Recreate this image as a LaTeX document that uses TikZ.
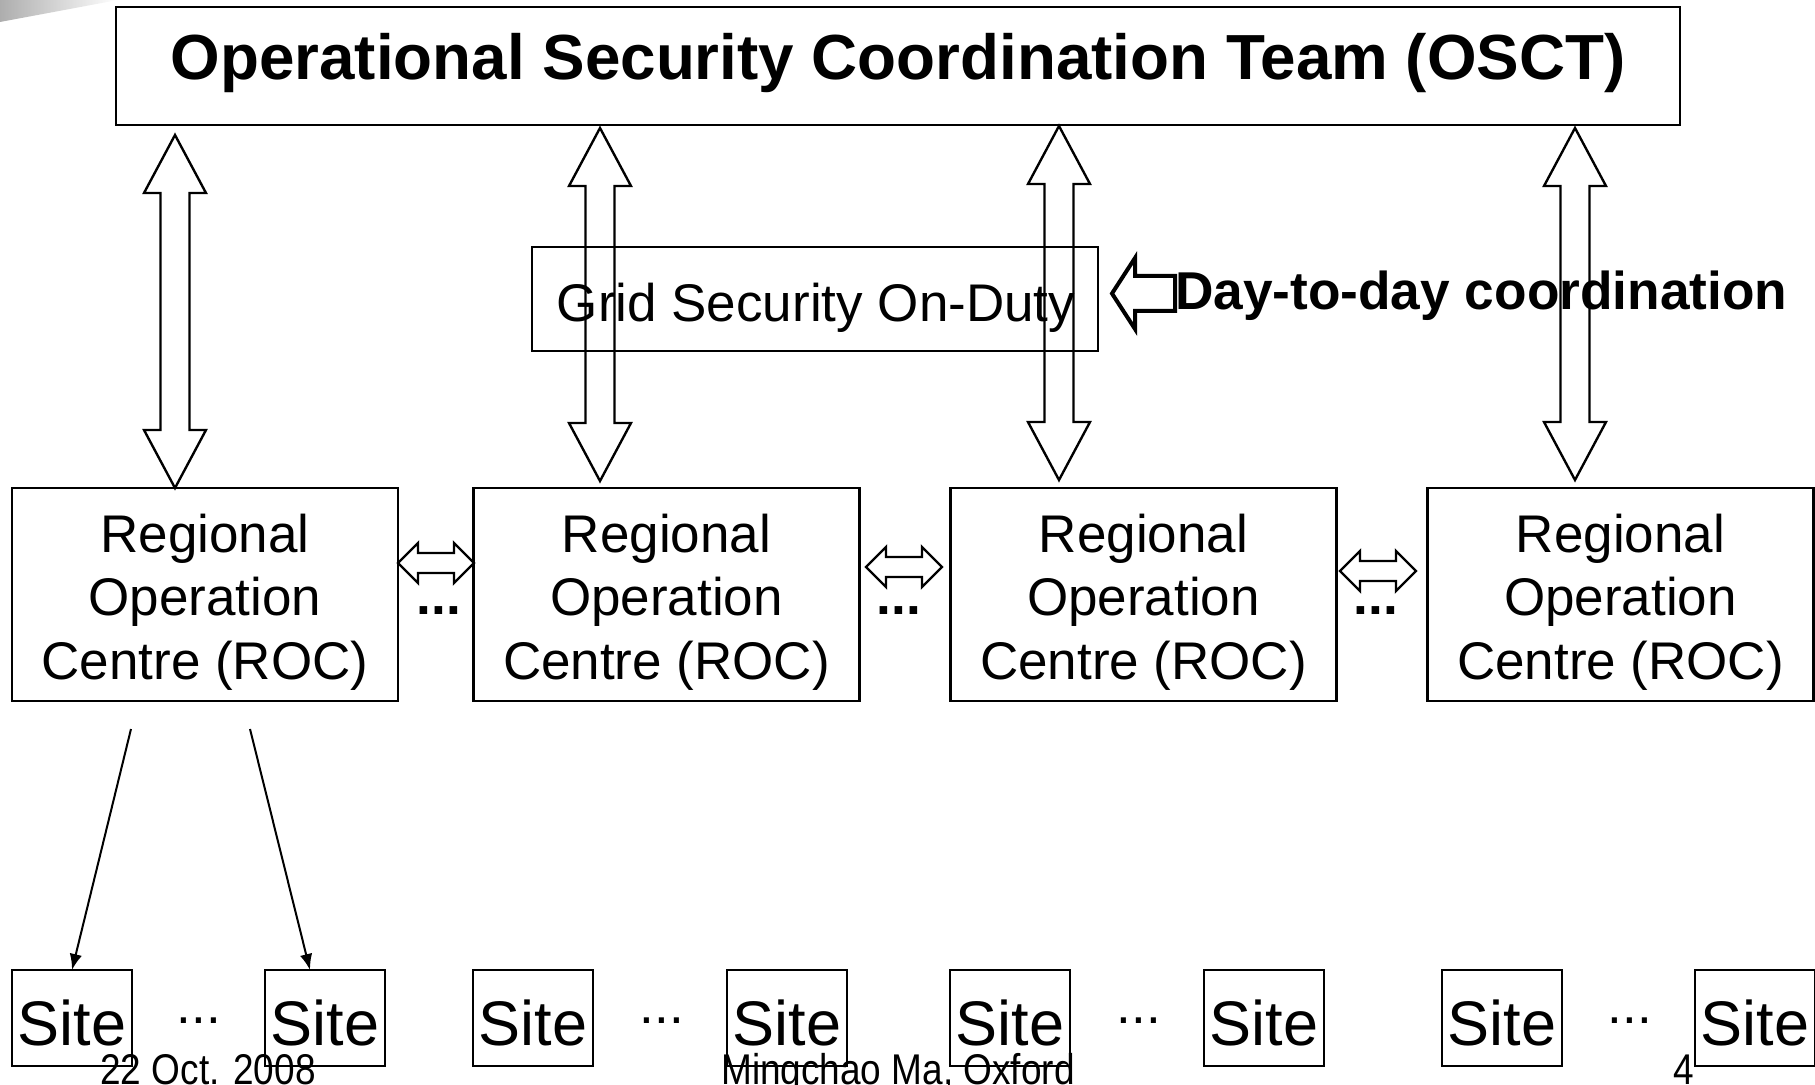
\documentclass[tikz,border=0pt]{standalone}
\usepackage{fontspec}
\setmainfont{Liberation Sans}
\newfontfamily\footfont[FakeStretch=0.86]{Liberation Sans}
\usetikzlibrary{arrows.meta,calc}

% hollow double block arrow, vertical: #1 upper tip, #2 lower tip
\newcommand\vblock[2]{%
  \draw[blk] let \p1=(#1), \p2=(#2) in
    (\x1,\y1) -- (\x1+12.4pt,\y1-23.2pt) -- (\x1+5.8pt,\y1-23.2pt)
    -- (\x1+5.8pt,\y2+23.2pt) -- (\x1+12.4pt,\y2+23.2pt) -- (\x1,\y2)
    -- (\x1-12.4pt,\y2+23.2pt) -- (\x1-5.8pt,\y2+23.2pt)
    -- (\x1-5.8pt,\y1-23.2pt) -- (\x1-12.4pt,\y1-23.2pt) -- cycle;}
% hollow double block arrow, horizontal: #1 left tip, #2 right tip
\newcommand\hblock[2]{%
  \draw[blk] let \p1=(#1), \p2=(#2) in
    (\x1,\y1) -- (\x1+8pt,\y1+8pt) -- (\x1+8pt,\y1+4pt)
    -- (\x2-8pt,\y1+4pt) -- (\x2-8pt,\y1+8pt) -- (\x2,\y1)
    -- (\x2-8pt,\y1-8pt) -- (\x2-8pt,\y1-4pt)
    -- (\x1+8pt,\y1-4pt) -- (\x1+8pt,\y1-8pt) -- cycle;}

\begin{document}
\begin{tikzpicture}[x=0.4pt,y=-0.4pt,
  frame/.style 2 args={draw, line width=0.95pt, inner sep=0pt, outer sep=0pt,
    minimum width=#1*0.4pt, minimum height=#2*0.4pt},
  txt/.style={inner sep=0pt, outer sep=0pt, anchor=base},
  title/.style={txt, font=\fontsize{25.5pt}{30pt}\selectfont\bfseries},
  body/.style={txt, font=\fontsize{21.2pt}{25.3pt}\selectfont},
  bodybf/.style={txt, font=\fontsize{21.3pt}{25pt}\selectfont\bfseries},
  sitefont/.style={txt, font=\fontsize{25.2pt}{30pt}\selectfont},
  foot/.style={txt, font=\footfont\fontsize{17.2pt}{20pt}\selectfont},
  blk/.style={draw, line width=0.95pt, line join=miter},
  thinarrow/.style={draw, line width=0.8pt, -{Latex[length=6.4pt,width=5pt]}}]
\useasboundingbox (0,0) rectangle (1815,1085);

% slide decoration in the upper left corner
\shade[left color=black!32, right color=white] (0,0) -- (118,0) -- (0,22) -- cycle;

% top level team
\node[frame={1564}{118}] (osct) at (898,66) {};
\node[title] (osctt) at (898,80) {Operational Security Coordination Team (OSCT)};

% on-duty box
\node[frame={566}{104}] (gsod) at (815,299) {};
\node[body] (gsodt) at (816,322) {Grid Security On-Duty};

% regional operation centres (text anchored at the baseline of its last line)
\foreach \n/\cx in {1/205, 2/666.5, 3/1143.5, 4/1620.5} {
  \node[frame={386}{213}] (roc\n) at (\cx,594.5) {};
  \node[body, align=center] (roct\n) at (\cx,679) {Regional\\Operation\\Centre (ROC)};
}

% sites
\foreach \n/\cx in {1/72, 2/325, 3/533, 4/787, 5/1010, 6/1264, 7/1502, 8/1755} {
  \node[frame={120}{96}] (s\n) at (\cx,1018) {};
  \node[sitefont] (st\n) at (\cx,1045) {Site};
}
\foreach \n/\cx in {1/199, 2/662, 3/1139, 4/1630}
  \node[body] (sd\n) at (\cx,1023) {...};

% team <-> centres
\coordinate (a1t) at (175,135);
\coordinate (a2t) at (600,128);  \coordinate (a2b) at (600,481);
\coordinate (a3t) at (1059,126); \coordinate (a3b) at (1059,480);
\coordinate (a4t) at (1575,128); \coordinate (a4b) at (1575,480);
\vblock{a1t}{a1t |- roc1.north}
\vblock{a2t}{a2b}
\vblock{a3t}{a3b}
\vblock{a4t}{a4b}

% centre <-> centre
\coordinate (h1a) at (398,563);  \coordinate (h1b) at (474,563);
\coordinate (h2a) at (866,567);  \coordinate (h2b) at (942,567);
\coordinate (h3a) at (1340,571); \coordinate (h3b) at (1416,571);
\hblock{h1a}{h1b}
\hblock{h2a}{h2b}
\hblock{h3a}{h3b}
\node[bodybf] (rd1) at (439,614) {...};
\node[bodybf] (rd2) at (899,614) {...};
\node[bodybf] (rd3) at (1376,614) {...};

% day-to-day coordination label with its arrow
\node[bodybf, anchor=base west] (day) at (1175,310) {Day-to-day coordination};
\coordinate (daytip) at (1112,293.5);
\draw[blk, line width=1.6pt] let \p1=(daytip), \p2=(day.west) in
  (\x1,\y1) -- (\x1+9.2pt,\y1+14.2pt) -- (\x1+9.2pt,\y1+7pt)
  -- (\x2,\y1+7pt) -- (\x2,\y1-7pt) -- (\x1+9.2pt,\y1-7pt)
  -- (\x1+9.2pt,\y1-14.2pt) -- cycle;

% centre -> sites
\coordinate (r1a) at (131,729);
\coordinate (r1b) at (250,729);
\draw[thinarrow] (r1a) -- (s1.north);
\draw[thinarrow] (r1b) -- ($(s2.north west)+(45,0)$);

% footer
\node[foot] (fdate) at (208,1084) {22 Oct. 2008};
\node[foot] (fname) at (898,1084) {Mingchao Ma, Oxford};
\node[foot] (fpage) at (1684,1084) {4};
\end{tikzpicture}
\end{document}
